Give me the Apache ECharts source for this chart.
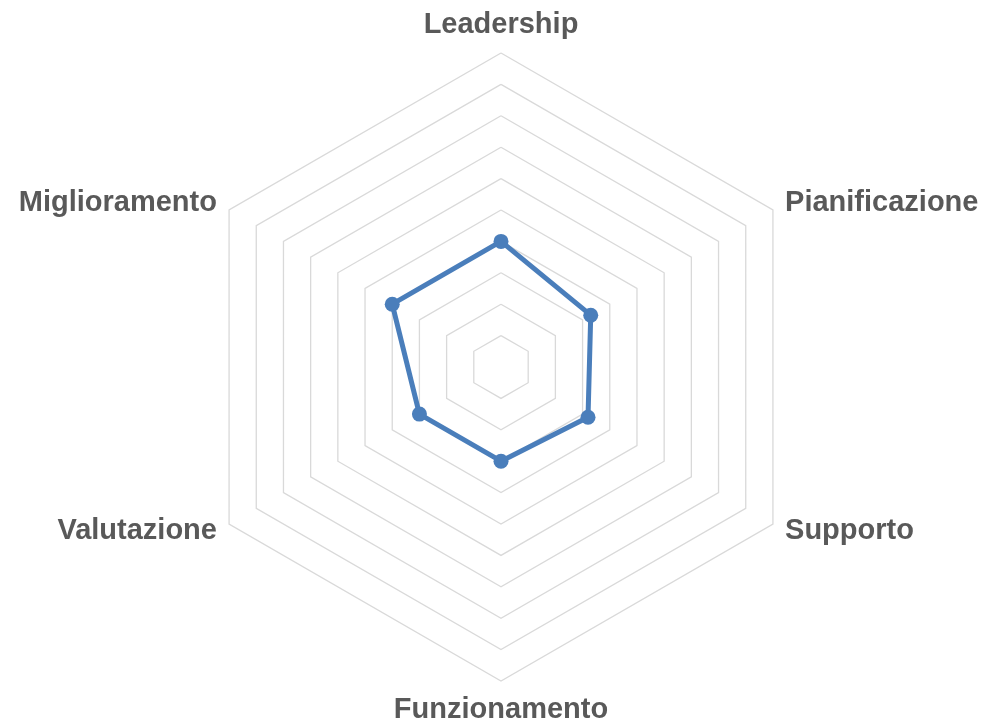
<!DOCTYPE html>
<html>
<head>
<meta charset="utf-8">
<title>Radar</title>
<script src="https://cdn.jsdelivr.net/npm/echarts@6/dist/echarts.min.js"></script>
<style>
  html, body { margin: 0; padding: 0; background: #fff; }
  #main { width: 995px; height: 726px; }
</style>
</head>
<body>
<div id="main"></div>
<script>
// categories clockwise from the top, as in the original
var categories = ['Leadership', 'Pianificazione', 'Supporto', 'Funzionamento', 'Valutazione', 'Miglioramento'];
var values = [4, 3.3, 3.2, 3, 3, 4];
var maxValue = 10;

// echarts lays out radar indicators counter-clockwise, so flip all but the first
var order = [0].concat(categories.slice(1).map(function (c, i) { return i + 1; }).reverse());

var chart = echarts.init(document.getElementById('main'));
var option = {
    backgroundColor: '#ffffff',
    animation: false,
    radar: {
        center: [501, 367],
        radius: 314,
        startAngle: 90,
        shape: 'polygon',
        splitNumber: 10,
        indicator: order.map(function (i) {
            return { name: categories[i], min: 0, max: maxValue };
        }),
        axisName: {
            color: '#595959',
            fontFamily: 'Liberation Sans, Arial, sans-serif',
            fontWeight: 'bold',
            fontSize: 29
        },
        nameGap: 14,
        axisLine: { show: false },
        axisTick: { show: false },
        axisLabel: { show: false },
        splitArea: { show: false },
        splitLine: {
            lineStyle: { color: '#d9d9d9', width: 1.3 }
        }
    },
    series: [{
        type: 'radar',
        symbol: 'circle',
        symbolSize: 15,
        lineStyle: { color: '#4a7ebb', width: 5 },
        itemStyle: { color: '#4a7ebb' },
        data: [{ value: order.map(function (i) { return values[i]; }) }]
    }]
};
chart.setOption(option);
</script>
</body>
</html>
